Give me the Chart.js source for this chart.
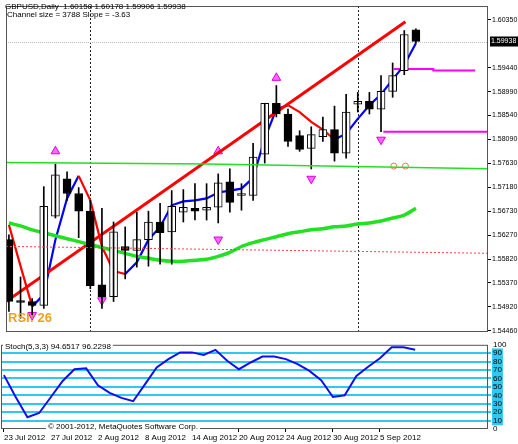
<!DOCTYPE html>
<html>
<head>
<meta charset="utf-8">
<script src="https://cdn.jsdelivr.net/npm/chart.js@4"></script>
<style>
  body { margin: 0; background: #fff; }
  #wrap { position: relative; width: 518px; height: 444px; }
  #main { position: absolute; left: 0; top: 0; }
  #stoch { position: absolute; left: 0; top: 338px; }
</style>
</head>
<body>
<div id="wrap">
  <canvas id="main" width="518" height="338"></canvas>
  <canvas id="stoch" width="518" height="106"></canvas>
</div>
<script>
// GBPUSD daily bars, 23 Jul 2012 .. 7 Sep 2012
const dateLabels = ['23 Jul 2012', '27 Jul 2012', '2 Aug 2012', '8 Aug 2012', '14 Aug 2012',
                    '20 Aug 2012', '24 Aug 2012', '30 Aug 2012', '5 Sep 2012'];
const dateTickIndex = [0, 4, 8, 12, 16, 20, 24, 28, 32];

const opens  = [1.56188, 1.55036, 1.55017, 1.54943, 1.56634, 1.57340, 1.57061, 1.56727, 1.55333, 1.55110,
                1.56058, 1.55983, 1.56188, 1.56522, 1.56336, 1.56708, 1.56782, 1.56745, 1.56801, 1.57284,
                1.57024, 1.57024, 1.57804, 1.58770, 1.58566, 1.58157, 1.57916, 1.58139, 1.58269, 1.57823,
                1.58752, 1.58808, 1.58659, 1.58993, 1.59384, 1.60158];
const highs  = [1.56281, 1.55482, 1.55073, 1.57191, 1.57618, 1.57470, 1.57173, 1.56931, 1.56782, 1.56522,
                1.56429, 1.56708, 1.56727, 1.56875, 1.57117, 1.57135, 1.57247, 1.57247, 1.57433, 1.57526,
                1.57247, 1.58009, 1.58770, 1.59105, 1.58659, 1.58250, 1.58324, 1.58510, 1.58715, 1.58938,
                1.58975, 1.58975, 1.59291, 1.59532, 1.60145, 1.60178];
const lows   = [1.54831, 1.54701, 1.54739, 1.54887, 1.56597, 1.56931, 1.56225, 1.55259, 1.54887, 1.55017,
                1.55445, 1.55668, 1.55686, 1.55723, 1.55723, 1.56522, 1.56559, 1.56559, 1.56504, 1.56708,
                1.56745, 1.56931, 1.57637, 1.58510, 1.57953, 1.57860, 1.57526, 1.58046, 1.57674, 1.57730,
                1.58603, 1.58566, 1.58232, 1.58882, 1.59309, 1.59906];
const closes = [1.55017, 1.54999, 1.54943, 1.56820, 1.57414, 1.57061, 1.56727, 1.55315, 1.55110, 1.56336,
                1.55983, 1.56188, 1.56522, 1.56318, 1.56820, 1.56801, 1.56727, 1.56801, 1.57265, 1.56894,
                1.57061, 1.57749, 1.58770, 1.58566, 1.58046, 1.57897, 1.58176, 1.58269, 1.57823, 1.58603,
                1.58808, 1.58659, 1.58993, 1.59291, 1.60071, 1.59938];

// fast MA, drawn blue while rising and red while falling
const maRising  = [null, null, 1.54924, 1.55147, 1.56188, 1.56968, 1.57395, null, null, null,
                   1.55537, 1.55760, 1.56188, 1.56429, 1.56838, 1.56912, 1.56931, 1.56968, 1.57080, 1.57117,
                   1.57154, 1.57358, 1.58102, 1.58659, 1.58733, null, null, null, 1.58083, 1.58194,
                   1.58473, 1.58733, 1.58938, 1.59216, 1.59495, 1.59904];
const maFalling = [1.56467, 1.55686, 1.54924, null, null, null, 1.57395, 1.56931, 1.56058, 1.55593,
                   1.55537, null, null, null, null, null, null, null, null, null,
                   null, null, null, null, 1.58733, 1.58603, 1.58417, 1.58269, 1.58083, null,
                   null, null, null, null, null, null];
// slow MA (green)
const slowMa = [1.56504, 1.56448, 1.56374, 1.56318, 1.56262, 1.56206, 1.56151, 1.56095, 1.56039, 1.55983,
                1.55928, 1.55872, 1.55835, 1.55798, 1.55779, 1.55779, 1.55798, 1.55816, 1.55872, 1.55947,
                1.56058, 1.56132, 1.56188, 1.56244, 1.56300, 1.56337, 1.56374, 1.56393, 1.56430, 1.56448,
                1.56485, 1.56504, 1.56541, 1.56597, 1.56652, 1.56782];

const stochValues = [64, 38, 14, 19, 38, 57, 71, 72, 52, 43, 37, 33, 53, 73, 83, 91, 91, 88, 94, 81,
                     71, 79, 86, 86, 83, 77, 69, 58, 38, 40, 63, 74, 84, 97, 97, 94];

const priceTicks = [1.60350, 1.59440, 1.58990, 1.58540, 1.58090, 1.57630, 1.57180, 1.56730,
                    1.56270, 1.55820, 1.55370, 1.54920, 1.54460];
const lastPrice = 1.59938;

const channelLine = [{x: -0.25, y: 1.55017}, {x: 34.1, y: 1.60313}];
const greenLevel  = [{x: -0.25, y: 1.5765}, {x: 17, y: 1.5762}, {x: 41.2, y: 1.5753}];
const redLevel    = [{x: -0.25, y: 1.5606}, {x: 41.2, y: 1.5593}];
const magentaHigh = [{x: 33.1, y: 1.5942}, {x: 36.5, y: 1.5942}, {x: 36.5, y: 1.5939}, {x: 40.1, y: 1.5939}];
const magentaLow  = [{x: 32.2, y: 1.5823}, {x: 41.2, y: 1.5823}];
const upArrows    = [{x: 4, y: 1.5786}, {x: 18, y: 1.5786}, {x: 23, y: 1.5925}];
const downArrows  = [{x: 2, y: 1.5476}, {x: 8, y: 1.5504}, {x: 18, y: 1.5619}, {x: 26, y: 1.5734}, {x: 32, y: 1.5808}];
const orangeMarks = [{x: 33.1, y: 1.5758}, {x: 34.1, y: 1.5758}];
const separators  = [7, 30];

const xMin = -0.25, xMax = 41.2;
const FONT = 'Liberation Sans';
Chart.defaults.font.family = FONT;
Chart.defaults.font.size = 8;
Chart.defaults.color = '#000';

const idx = opens.map((_, i) => i);
const wicks = idx.map(i => ({x: i, y: [lows[i], highs[i]]}));
const bodies = idx.map(i => {
  let a = opens[i], b = closes[i];
  if (Math.abs(a - b) < 0.00004) { b = a + 0.00004; }
  return {x: i, y: [Math.min(a, b), Math.max(a, b)]};
});
const bodyFill = idx.map(i => closes[i] >= opens[i] ? '#fff' : '#000');

function frame(chart) {
  const a = chart.chartArea, c = chart.ctx;
  c.save();
  c.strokeStyle = '#555';
  c.lineWidth = 1;
  c.strokeRect(a.left + 0.5, a.top + 0.5, a.right - a.left - 1, a.bottom - a.top - 1);
  c.restore();
}

const mainDecor = {
  id: 'mainDecor',
  beforeDatasetsDraw(chart) {
    const c = chart.ctx, a = chart.chartArea;
    const xs = chart.scales.x, ys = chart.scales.y;
    c.save();
    // period separators
    c.strokeStyle = '#222';
    c.setLineDash([2, 2]);
    separators.forEach(v => {
      const px = Math.round(xs.getPixelForValue(v)) + 0.5;
      c.beginPath(); c.moveTo(px, a.top); c.lineTo(px, a.bottom); c.stroke();
    });
    // last price line
    c.strokeStyle = '#bbb';
    c.setLineDash([1, 1]);
    const py = Math.round(ys.getPixelForValue(lastPrice)) + 0.5;
    c.beginPath(); c.moveTo(a.left, py); c.lineTo(a.right, py); c.stroke();
    c.restore();
  },
  afterDraw(chart) {
    const c = chart.ctx, a = chart.chartArea, ys = chart.scales.y;
    frame(chart);
    c.save();
    c.font = '8px ' + FONT;
    c.fillStyle = '#000';
    c.textBaseline = 'middle';
    c.fillText('GBPUSD,Daily  1.60158 1.60178 1.59906 1.59938', 5, 7);
    c.fillText('Channel size = 3788 Slope = -3.63', 7, 15);
    c.font = 'bold 13px ' + FONT;
    c.fillStyle = '#f0a020';
    c.fillText('RSI: 26', 8, 318);
    // last price box on the axis
    const py = ys.getPixelForValue(lastPrice);
    c.fillStyle = '#000';
    c.fillRect(a.right + 2, py - 5, 28, 10);
    c.fillStyle = '#fff';
    c.font = '7px ' + FONT;
    c.fillText('1.59938', a.right + 3, py);
    c.restore();
  }
};

new Chart(document.getElementById('main'), {
  type: 'bar',
  data: {
    datasets: [
      {type: 'line', data: greenLevel, borderColor: '#22e022', borderWidth: 1.5, pointRadius: 0},
      {type: 'line', data: redLevel, borderColor: '#ff4040', borderWidth: 1, borderDash: [2, 2], pointRadius: 0},
      {data: wicks, backgroundColor: '#000', barThickness: 1, grouped: false},
      {data: bodies, backgroundColor: bodyFill, borderColor: '#000', borderWidth: 1, borderSkipped: false,
       barThickness: 8, grouped: false},
      {type: 'line', data: idx.map(i => ({x: i, y: slowMa[i]})), borderColor: '#22e022', borderWidth: 3.5,
       pointRadius: 0, tension: 0.3},
      {type: 'line', data: channelLine, borderColor: '#ff0000', borderWidth: 3, pointRadius: 0},
      {type: 'line', data: idx.map(i => ({x: i, y: maFalling[i]})), borderColor: '#ff0000', borderWidth: 2.2,
       pointRadius: 0, spanGaps: false},
      {type: 'line', data: idx.map(i => ({x: i, y: maRising[i]})), borderColor: '#0000ff', borderWidth: 2.2,
       pointRadius: 0, spanGaps: false},
      {type: 'line', data: magentaHigh, borderColor: '#ff00ff', borderWidth: 2, pointRadius: 0},
      {type: 'line', data: magentaLow, borderColor: '#ff00ff', borderWidth: 2, pointRadius: 0},
      {type: 'scatter', data: upArrows, pointStyle: 'triangle', pointRadius: 5, rotation: 0,
       backgroundColor: '#ff66ff', borderColor: '#dd00dd', borderWidth: 1},
      {type: 'scatter', data: downArrows, pointStyle: 'triangle', pointRadius: 5, rotation: 180,
       backgroundColor: '#ff66ff', borderColor: '#dd00dd', borderWidth: 1},
      {type: 'scatter', data: orangeMarks, pointStyle: 'circle', pointRadius: 3,
       backgroundColor: 'rgba(0,0,0,0)', borderColor: '#ff7050', borderWidth: 1}
    ]
  },
  options: {
    responsive: false,
    animation: false,
    layout: {padding: {top: 1, left: 1, right: 0, bottom: 4}},
    plugins: {legend: {display: false}, tooltip: {enabled: false}},
    scales: {
      x: {type: 'linear', min: xMin, max: xMax, offset: false, display: false},
      y: {
        position: 'right',
        min: 1.5444, max: 1.6061,
        afterFit(scale) { scale.width = 30; },
        afterBuildTicks(scale) { scale.ticks = priceTicks.map(v => ({value: v})); },
        ticks: {padding: 1, autoSkip: false, callback: v => v.toFixed(5), font: {size: 7}},
        grid: {drawOnChartArea: false, tickLength: 3, color: '#000'},
        border: {display: false}
      }
    }
  },
  plugins: [mainDecor]
});

const stochDecor = {
  id: 'stochDecor',
  afterDraw(chart) {
    const c = chart.ctx;
    frame(chart);
    c.save();
    c.font = '8px ' + FONT;
    c.textBaseline = 'middle';
    const t1 = 'Stoch(5,3,3) 94.6517 96.2298';
    c.fillStyle = '#fff';
    c.fillRect(3, 4, c.measureText(t1).width + 4, 10);
    c.fillStyle = '#000';
    c.fillText(t1, 5, 9);
    const t2 = '\u00a9 2001-2012, MetaQuotes Software Corp.';
    c.fillStyle = '#fff';
    c.fillRect(46, 84, c.measureText(t2).width + 4, 10);
    c.fillStyle = '#000';
    c.fillText(t2, 48, 89);
    c.restore();
  }
};

new Chart(document.getElementById('stoch'), {
  type: 'line',
  data: {
    datasets: [
      {data: idx.map(i => ({x: i, y: stochValues[i]})), borderColor: '#1010ee', borderWidth: 2, pointRadius: 0}
    ]
  },
  options: {
    responsive: false,
    animation: false,
    layout: {padding: {top: 1, left: 1, right: 0, bottom: 0}},
    plugins: {legend: {display: false}, tooltip: {enabled: false}},
    scales: {
      x: {
        type: 'linear', min: xMin, max: xMax, offset: false,
        afterFit(scale) { scale.height = 15; },
        afterBuildTicks(scale) { scale.ticks = dateTickIndex.map(v => ({value: v})); },
        ticks: {
          autoSkip: false, maxRotation: 0, align: 'start', padding: 1,
          callback: (v) => dateLabels[dateTickIndex.indexOf(v)], font: {size: 8}
        },
        grid: {drawOnChartArea: false, tickLength: 3, color: '#000'},
        border: {display: false}
      },
      y: {
        position: 'right',
        min: 0, max: 100,
        afterFit(scale) { scale.width = 30; },
        afterBuildTicks(scale) {
          scale.ticks = [0, 10, 20, 30, 40, 50, 60, 70, 80, 90, 100].map(v => ({value: v}));
        },
        ticks: {
          padding: 2, autoSkip: false, font: {size: 8},
          showLabelBackdrop: true,
          backdropPadding: {top: 0, bottom: 0, left: 1, right: 1},
          backdropColor: ctx => (ctx.tick.value % 100 === 0) ? 'rgba(0,0,0,0)' : '#30c8f0'
        },
        grid: {
          drawOnChartArea: true, drawTicks: true, tickLength: 3, lineWidth: 2,
          color: ctx => (ctx.tick.value % 100 === 0) ? 'rgba(0,0,0,0)' : '#30c8f0'
        },
        border: {display: false}
      }
    }
  },
  plugins: [stochDecor]
});
</script>
</body>
</html>
